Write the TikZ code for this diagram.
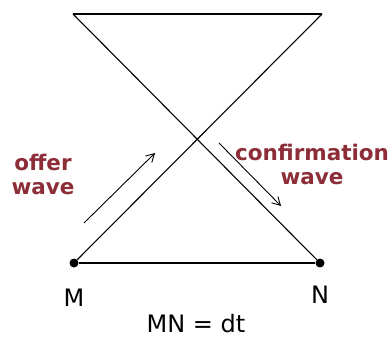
\documentclass[tikz,border=0pt]{standalone}
\usepackage{fontspec}
\setmainfont{DejaVu Sans}
\usepackage{xcolor}
\usetikzlibrary{positioning,arrows.meta}

\definecolor{wavered}{RGB}{140,45,55}

\begin{document}
\begin{tikzpicture}[
    x=1pt, y=1pt,
    endpt/.style={circle, fill=black, minimum size=9pt, inner sep=0pt},
    ptlabel/.style={font=\fontsize{24}{24}\selectfont, anchor=base, inner sep=1pt},
    wavelabel/.style={font=\fontsize{21.5}{24}\selectfont\bfseries, text=wavered, align=center},
    rail/.style={line width=1.6pt},
    ray/.style={line width=1.1pt},
    wavearrow/.style={line width=0.9pt, -{Straight Barb[length=8pt, width=9pt]}},
  ]
  \useasboundingbox (0,0) rectangle (390,338);

  % Points
  \node[endpt] (M) at (74,75) {};
  \node[endpt] (N) at (320,75) {};
  \coordinate (TL) at (73,324);
  \coordinate (TR) at (322,324);

  % Lines
  \draw[rail] (TL) -- (TR);
  \draw[rail] (M) -- (N);
  \draw[ray] (M) -- (TR);
  \draw[ray] (TL) -- (N);

  % Waves
  \coordinate (o1) at (84,115);
  \coordinate (o2) at (155,185);
  \coordinate (c1) at (219,195);
  \coordinate (c2) at (281,132);
  \draw[wavearrow] (o1) -- (o2);
  \draw[wavearrow] (c1) -- (c2);

  % Labels
  \node[wavelabel] (offer) at (43,164) {offer\\wave};
  \node[wavelabel] (confirm) at (312,174) {confirmation\\wave};
  \node[ptlabel] (Mlab) at (74,32) {M};
  \node[ptlabel] (Nlab) at (320,35) {N};
  \node[ptlabel] (MNlab) at (196,6) {MN = dt};
\end{tikzpicture}
\end{document}
